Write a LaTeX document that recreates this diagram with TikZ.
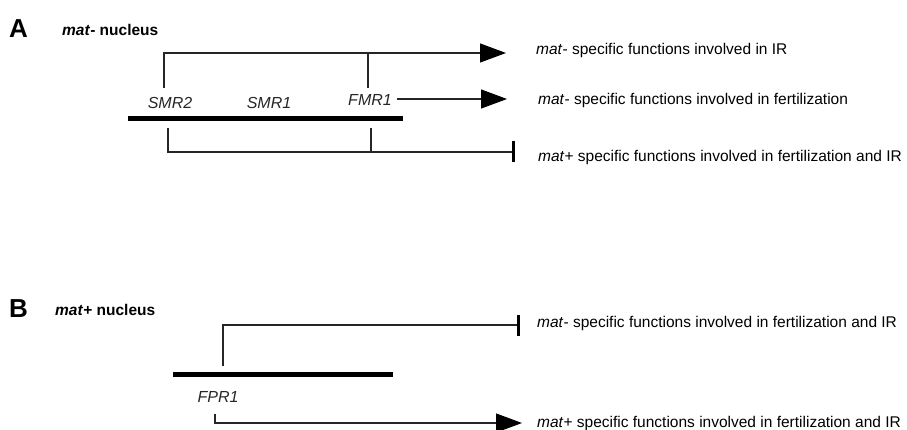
\documentclass[tikz,border=0pt]{standalone}
\usepackage{fontspec}
\setmainfont{Liberation Sans}
\usetikzlibrary{arrows.meta}

\begin{document}
\begin{tikzpicture}[
  x=1pt, y=-1pt,
  every node/.style={inner sep=0pt, font=\fontsize{15.5}{18}\selectfont},
  panel/.style={anchor=west, font=\fontsize{26}{28}\selectfont\bfseries},
  head/.style={anchor=west, font=\fontsize{15.5}{18}\selectfont\bfseries},
  gene/.style={font=\fontsize{16}{18}\selectfont\itshape, text=black!85},
  effect/.style={anchor=west},
  link/.style={line width=1.1pt, draw=black!85},
  chrom/.style={line width=5pt},
  act/.style={link, -{Triangle[length=26pt, width=19pt, color=black]}},
  inh/.style={link, -{Rectangle[length=3.5pt, width=21pt, color=black]}}
]
\useasboundingbox (0,0) rectangle (907,430);

% panel A: mat- nucleus
\node[panel] (la) at (9,29) {A};
\node[head] (heada) at (62,30) {\textit{mat}- nucleus};

\coordinate (chrA-l) at (128,119);
\coordinate (chrA-r) at (403,119);
\draw[chrom] (chrA-l) -- (chrA-r);

\node[gene] (smr2) at (170,103) {SMR2};
\node[gene] (smr1) at (269,103) {SMR1};
\node[gene] (fmr1) at (370,100) {FMR1};

\node[effect] (ir) at (536,50) {\textit{mat}- specific functions involved in IR};
\node[effect] (fert) at (538,100) {\textit{mat}- specific functions involved in fertilization};
\node[effect] (plusa) at (538,157) {\textit{mat}+ specific functions involved in fertilization and IR};

\coordinate (irtip) at (506,53);
\coordinate (ferttip) at (507,99);
\coordinate (inha) at (515,152);
\coordinate (smr2up) at (164,88);
\coordinate (fmr1up) at (368,88);
\coordinate (smr2dn) at (168,128);
\coordinate (fmr1dn) at (371,128);

\draw[act] (smr2up) |- (irtip);
\draw[link] (fmr1up) -- (fmr1up |- irtip);
\draw[act] ([xshift=5pt]fmr1.east |- ferttip) -- (ferttip);
\draw[inh] (smr2dn) |- (inha);
\draw[link] (fmr1dn) -- (fmr1dn |- inha);

% panel B: mat+ nucleus
\node[panel] (lb) at (9,309) {B};
\node[head] (headb) at (55,310) {\textit{mat}+ nucleus};

\coordinate (chrB-l) at (173,374);
\coordinate (chrB-r) at (393,374);
\draw[chrom] (chrB-l) -- (chrB-r);

\node[gene] (fpr1) at (218,397) {FPR1};

\node[effect] (minusb) at (537,323) {\textit{mat}- specific functions involved in fertilization and IR};
\node[effect] (plusb) at (537,423) {\textit{mat}+ specific functions involved in fertilization and IR};

\coordinate (inhb) at (520,325);
\coordinate (plustip) at (522,423);
\coordinate (fpr1up) at (223,366);
\coordinate (fpr1dn) at (215,414);

\draw[inh] (fpr1up) |- (inhb);
\draw[act] (fpr1dn) |- (plustip);
\end{tikzpicture}
\end{document}
